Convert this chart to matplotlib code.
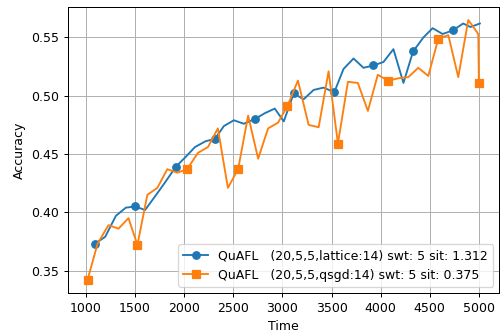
import matplotlib
matplotlib.use('Agg')
import matplotlib.pyplot as plt

lattice_time = [1091, 1196, 1305, 1406, 1500, 1602, 1706, 1808, 1914, 2009,
                2110, 2218, 2313, 2404, 2506, 2607, 2719, 2820, 2922, 3014,
                3115, 3216, 3318, 3419, 3528, 3622, 3724, 3825, 3927, 4029,
                4130, 4232, 4330, 4435, 4529, 4631, 4732, 4840, 4915, 5010]
lattice_acc = [0.373, 0.379, 0.397, 0.404, 0.405, 0.402, 0.414, 0.426, 0.439, 0.447,
               0.456, 0.461, 0.463, 0.474, 0.479, 0.476, 0.480, 0.485, 0.489, 0.478,
               0.502, 0.497, 0.505, 0.507, 0.503, 0.523, 0.532, 0.524, 0.526, 0.529,
               0.540, 0.511, 0.538, 0.550, 0.558, 0.553, 0.556, 0.562, 0.559, 0.562]

qsgd_time = [1016, 1118, 1229, 1331, 1433, 1524, 1625, 1727, 1828, 1930,
             2030, 2140, 2242, 2343, 2445, 2549, 2651, 2753, 2854, 2956,
             3050, 3158, 3267, 3369, 3470, 3565, 3667, 3768, 3870, 3971,
             4075, 4180, 4282, 4383, 4485, 4587, 4689, 4790, 4892, 4994, 5000]
qsgd_acc = [0.342, 0.373, 0.389, 0.386, 0.395, 0.372, 0.415, 0.421, 0.437, 0.434,
            0.437, 0.451, 0.456, 0.472, 0.421, 0.437, 0.483, 0.446, 0.472, 0.477,
            0.491, 0.513, 0.475, 0.473, 0.521, 0.459, 0.512, 0.511, 0.487, 0.518,
            0.513, 0.515, 0.516, 0.524, 0.517, 0.549, 0.552, 0.516, 0.565, 0.553, 0.511]

labels = ['QuAFL   (20,5,5,lattice:14) swt: 5 sit: 1.312',
          'QuAFL   (20,5,5,qsgd:14) swt: 5 sit: 0.375']

fig, ax = plt.subplots(figsize=(503 / 90, 334 / 90), dpi=90)
ax.plot(lattice_time, lattice_acc, marker='o', markevery=4, label=labels[0])
ax.plot(qsgd_time, qsgd_acc, marker='s', markevery=5, label=labels[1])
ax.set_xlabel('Time')
ax.set_ylabel('Accuracy')
ax.grid(True)
ax.legend(loc='lower right')
fig.subplots_adjust(left=0.135, right=0.993, top=0.979, bottom=0.123)
plt.savefig('out.png', dpi=90)
